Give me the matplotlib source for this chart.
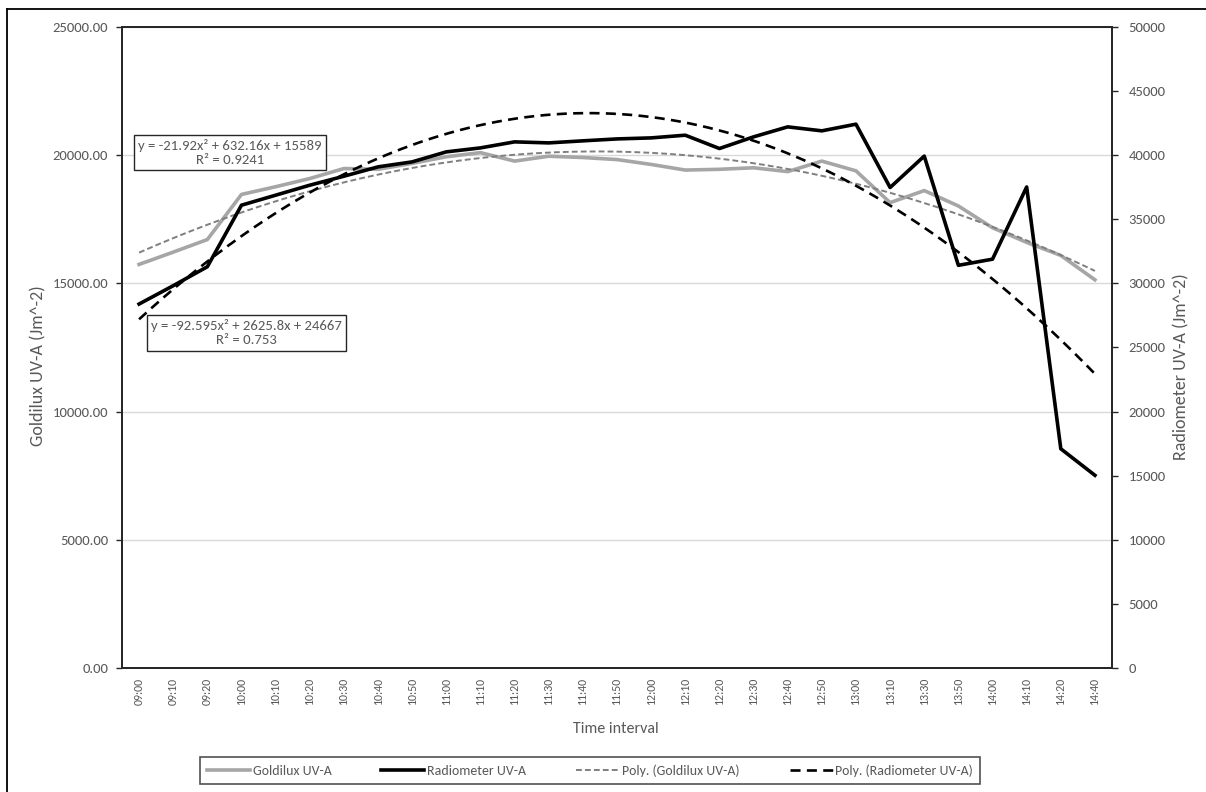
import numpy as np
import matplotlib
matplotlib.use("Agg")
import matplotlib.pyplot as plt
from matplotlib.lines import Line2D

plt.rcParams['font.family'] = ['Carlito', 'Lato', 'DejaVu Sans']

# ---- data ----
times = ["09:00", "09:10", "09:20", "10:00", "10:10", "10:20", "10:30", "10:40",
         "10:50", "11:00", "11:10", "11:20", "11:30", "11:40", "11:50", "12:00",
         "12:10", "12:20", "12:30", "12:40", "12:50", "13:00", "13:10", "13:30",
         "13:50", "14:00", "14:10", "14:20", "14:40"]

goldilux = [15740, 16220, 16710, 18470, 18770, 19090, 19480, 19450, 19680, 19940,
            20100, 19770, 19960, 19910, 19830, 19640, 19420, 19450, 19510, 19360,
            19770, 19390, 18150, 18620, 18020, 17170, 16600, 16090, 15140]

radiometer = [28390, 29820, 31300, 36100, 36880, 37660, 38360, 39090, 39480, 40260,
              40570, 41040, 40960, 41120, 41270, 41350, 41560, 40520, 41430, 42210,
              41900, 42420, 37480, 39930, 31410, 31890, 37520, 17100, 15030]

# second-order polynomial trend coefficients (a, b, c) for y = a*x^2 + b*x + c
gold_poly = (-21.92, 632.16, 15589)
gold_r2 = 0.9241
radio_poly = (-92.595, 2625.8, 24667)
radio_r2 = 0.753

left_ticks = [0, 5000, 10000, 15000, 20000, 25000]
right_ticks = [0, 5000, 10000, 15000, 20000, 25000, 30000, 35000, 40000, 45000, 50000]

TXT = '#595959'

fig = plt.figure(figsize=(12.06, 7.92), dpi=100)
W, H = 1206, 792
ax = fig.add_axes([122 / W, 1 - 668 / H, (1112 - 122) / W, (668 - 27) / H])
ax2 = ax.twinx()

idx = np.arange(len(times))
xs = np.linspace(1, len(times), 300)

# primary axis: Goldilux
ax.plot(idx, goldilux, color='#a6a6a6', lw=2.6, solid_joinstyle='round', zorder=3,
        label='Goldilux UV-A')
g_fit = gold_poly[0] * xs ** 2 + gold_poly[1] * xs + gold_poly[2]
ax.plot(xs - 1, g_fit, color='#7f7f7f', lw=1.4, dashes=(3, 1.6), zorder=4,
        label='Poly. (Goldilux UV-A)')

# secondary axis: Radiometer
ax2.plot(idx, radiometer, color='black', lw=2.6, solid_joinstyle='round', zorder=3,
         label='Radiometer UV-A')
r_fit = radio_poly[0] * xs ** 2 + radio_poly[1] * xs + radio_poly[2]
ax2.plot(xs - 1, r_fit, color='black', lw=1.9, dashes=(3.8, 2.4), zorder=4,
         label='Poly. (Radiometer UV-A)')

ax.set_xlim(-0.5, len(times) - 0.5)
ax.set_ylim(0, 25000)
ax2.set_ylim(0, 50000)

ax.set_yticks(left_ticks)
ax.set_yticklabels([f"{v:.2f}" for v in left_ticks])
ax2.set_yticks(right_ticks)
ax2.set_yticklabels([str(v) for v in right_ticks])
ax.set_xticks(idx)
ax.set_xticklabels(times, rotation=90)

ax.grid(axis='y', color='#d9d9d9', lw=1.0, zorder=0)
ax.set_axisbelow(True)

for a in (ax, ax2):
    for s in a.spines.values():
        s.set_color('#262626')
        s.set_linewidth(1.3)

ax.tick_params(axis='y', direction='out', length=4, width=1, color='#262626',
               labelcolor=TXT, labelsize=10.5, pad=6)
ax2.tick_params(axis='y', direction='out', length=4, width=1, color='#262626',
                labelcolor=TXT, labelsize=10.5, pad=8)
ax.tick_params(axis='x', length=0, labelcolor=TXT, labelsize=8.6, pad=7)

# axis titles
fig.text(38 / W, 1 - 366 / H, 'Goldilux UV-A (Jm^-2)', rotation=90, ha='center',
         va='center', color=TXT, fontsize=13)
fig.text(1181 / W, 1 - 367 / H, 'Radiometer UV-A (Jm^-2)', rotation=90, ha='center',
         va='center', color=TXT, fontsize=13)
fig.text(616 / W, 1 - 729 / H, 'Time interval', ha='center', va='center',
         color=TXT, fontsize=11.5)

# trendline equation labels
box = dict(boxstyle='square,pad=0.3', facecolor='white', edgecolor='#262626', lw=1.0)
fig.text(230 / W, 1 - 152.5 / H,
         f"y = {gold_poly[0]}x\u00b2 + {gold_poly[1]}x + {gold_poly[2]}\nR\u00b2 = {gold_r2}",
         ha='center', va='center', color=TXT, fontsize=10.6, linespacing=1.2,
         bbox=box, zorder=10)
fig.text(246.5 / W, 1 - 333 / H,
         f"y = {radio_poly[0]}x\u00b2 + {radio_poly[1]}x + {radio_poly[2]}\nR\u00b2 = {radio_r2}",
         ha='center', va='center', color=TXT, fontsize=10.6, linespacing=1.2,
         bbox=box, zorder=10)

# combined legend below the plot
h1, l1 = ax.get_legend_handles_labels()
h2, l2 = ax2.get_legend_handles_labels()
handles = [h1[0], h2[0], h1[1], h2[1]]
labels = [l1[0], l2[0], l1[1], l2[1]]
leg = fig.legend(handles, labels, loc='center', bbox_to_anchor=(590 / W, 1 - 770.5 / H),
                 ncol=4, frameon=True, fancybox=False, edgecolor='#262626',
                 fontsize=10, handlelength=3.1, handletextpad=0.2, columnspacing=3.6,
                 borderpad=0.5, labelcolor=TXT)
leg.get_frame().set_linewidth(1.2)

# chart area border (top and left edges)
fig.add_artist(Line2D([7 / W, 7 / W], [0, 1 - 9 / H], color='black', lw=1.3,
                      transform=fig.transFigure))
fig.add_artist(Line2D([7 / W, 1], [1 - 9 / H, 1 - 9 / H], color='black', lw=1.3,
                      transform=fig.transFigure))

fig.savefig('out.png', dpi=100, facecolor='white')
